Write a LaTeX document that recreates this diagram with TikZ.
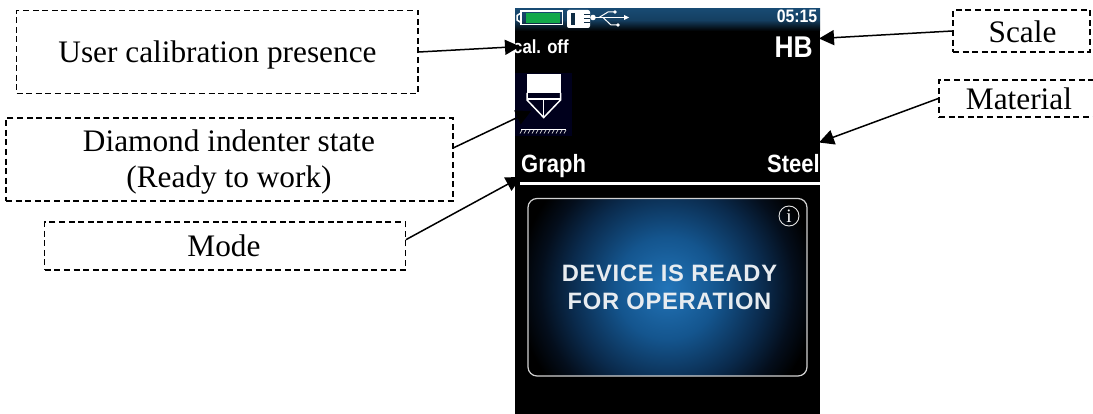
\documentclass[tikz,border=0pt]{standalone}
\usepackage{fontspec}
\usetikzlibrary{arrows.meta,calc}
\setmainfont{Liberation Serif}
\newfontfamily\scrfont[FakeStretch=0.88]{Liberation Sans Bold}
\newfontfamily\panelfont[LetterSpace=3]{Liberation Sans Bold}
\definecolor{topblue}{HTML}{184A72}
\definecolor{navy}{HTML}{00001C}
\definecolor{barGreen}{HTML}{12A84A}
\definecolor{panelText}{HTML}{E8ECF0}
\definecolor{glowA}{HTML}{2274B8}
\definecolor{glowB}{HTML}{14558E}
\definecolor{glowC}{HTML}{0A2A4C}
\definecolor{glowD}{HTML}{040E1C}
\pgfdeclareradialshading{devglow}{\pgfpoint{0bp}{0bp}}{
 color(0bp)=(glowA); color(8.5bp)=(glowB); color(16.3bp)=(glowC); color(21.2bp)=(glowD); color(25bp)=(black); color(100bp)=(black)}
\tikzset{
 callout/.style={draw=black,dashed,dash pattern=on 6pt off 3.6pt,line width=1.4pt,inner sep=0pt},
 calloutText/.style={inner sep=0pt,anchor=base,text=black,font=\fontsize{31.3}{36}\selectfont},
 pointer/.style={draw=black,line width=1.5pt,-{Triangle[length=15pt,width=15pt]},shorten <=0pt},
 screentext/.style={inner sep=0pt,text=white,anchor=base},
 iconline/.style={draw=white,line width=1.5pt},
}
\begin{document}
\begin{tikzpicture}[x=1pt,y=-1pt]
\useasboundingbox (0,0) rectangle (1093,414);
\begin{scope}
\clip (0,0) rectangle (1093,414);
% screen
\fill[black] (515,9) rectangle (820,414);
\shade[top color=topblue,bottom color=black,middle color=topblue!85!black] (515,9) rectangle (820,31);
% battery
\draw[iconline] (521,11) rectangle (562.5,24.5);
\draw[iconline] (521,13) -- (517,15.5) -- (517,20) -- (521,22.5);
\fill[barGreen] (526,13.5) rectangle (560,23);
% card icon
\fill[white,rounded corners=2pt] (567,10) rectangle (590,28);
\fill[topblue!60!black] (571,13) rectangle (575,25);
\fill[white] (577,10) rectangle (578,28);
\fill[topblue!60!black] (584,14) rectangle (590,15.5);
\fill[topblue!60!black] (584,18) rectangle (590,19.5);
\fill[topblue!60!black] (584,22) rectangle (590,23.5);
% usb
\fill[white] (593,17.5) circle (2.8);
\draw[white,line width=1pt] (593,17.5) -- (627,17.5);
\draw[white,line width=1pt] (599,17.5) -- (608,12) -- (614,12);
\draw[white,line width=1pt] (603,17.5) -- (611,25) -- (617,25);
\fill[white] (615,12) circle (1.8);
\fill[white] (618,25) circle (1.8);
\fill[white] (624,15) -- (629,17.5) -- (624,20) -- cycle;
% screen texts
\node[screentext,font=\scrfont\fontsize{18}{18}\selectfont] (clock) at (797,23) {05:15};
\node[screentext,font=\scrfont\fontsize{19}{19}\selectfont,anchor=base west] (cal) at (513,53.5) {cal. off};
\node[screentext,font=\scrfont\fontsize{30}{30}\selectfont,anchor=base east] (hb) at (813,58) {HB};
\node[screentext,font=\scrfont\fontsize{25}{25}\selectfont,anchor=base west] (graph) at (521,173) {Graph};
\node[screentext,font=\scrfont\fontsize{25}{25}\selectfont,anchor=base east] (steel) at (820,173) {Steel};
\fill[white] (520,182) rectangle (820,185.5);
% indenter icon
\fill[navy] (515,73) rectangle (572,136);
\fill[white] (526.5,74) rectangle (561,93.5);
\draw[iconline] (527,93) -- (527,100) -- (543.7,117.5) -- (560.5,100) -- (560.5,93);
\draw[iconline] (527,99) -- (560.5,99);
\draw[iconline] (543.7,99) -- (543.7,117.5);
\draw[white,line width=1pt] (521,129.5) -- (566,129.5);
\foreach \hx in {522,526,...,566}{\draw[white!85!black,line width=.7pt] (\hx,130) -- (\hx-2,133.5);}
% panel
\begin{scope}
\clip[rounded corners=9pt] (528,198.5) rectangle (807,376);
\fill[black] (528,198) rectangle (807,376);
\shade[shading=devglow] (667,288) circle (150);
\end{scope}
\draw[draw=white!82!black,line width=1.2pt,rounded corners=9pt] (528,198.5) rectangle (807,376);
\draw[draw=white!90!black,line width=.9pt] (789,216) circle (10);
\node[inner sep=0pt,text=white,anchor=base,font=\fontsize{19}{19}\selectfont] (info) at (789,222.5) {i};
\node[screentext,text=panelText,font=\panelfont\fontsize{23.7}{23.7}\selectfont] (ready1) at (669.5,282) {DEVICE IS READY};
\node[screentext,text=panelText,font=\panelfont\fontsize{23.7}{23.7}\selectfont] (ready2) at (669.5,309) {FOR OPERATION};
% callouts
\node[callout,minimum width=401.5pt,minimum height=83pt] (usr) at (217.25,52) {};
\node[callout,minimum width=447pt,minimum height=83pt] (dia) at (229.5,159.5) {};
\node[callout,minimum width=360.5pt,minimum height=48pt] (modeb) at (225,246) {};
\node[callout,minimum width=137pt,minimum height=42pt] (scl) at (1021.5,31) {};
\node[callout,minimum width=160pt,minimum height=37pt] (mat) at (1019,98.5) {};
\node[calloutText] (usrT) at (217.5,63) {User calibration presence};
\node[calloutText] (diaA) at (229,152) {Diamond indenter state};
\node[calloutText] (diaB) at (229,188) {(Ready to work)};
\node[calloutText] (modeT) at (224,257) {Mode};
\node[calloutText] (sclT) at (1022.5,43) {Scale};
\node[calloutText] (matT) at (1019,110) {Material};
% targets
\coordinate (tcal) at (520,46.5);
\coordinate (tdia) at (531,111);
\coordinate (tmode) at (521,177);
\coordinate (thb) at (819,38.5);
\coordinate (tsteel) at (819,142.5);
\draw[pointer] (usr.east) -- (tcal);
\draw[pointer] (dia.3) -- (tdia);
\draw[pointer] (modeb.2.5) -- (tmode);
\draw[pointer] (scl.west) -- (thb);
\draw[pointer] (mat.west) -- (tsteel);
\end{scope}
\end{tikzpicture}
\end{document}
